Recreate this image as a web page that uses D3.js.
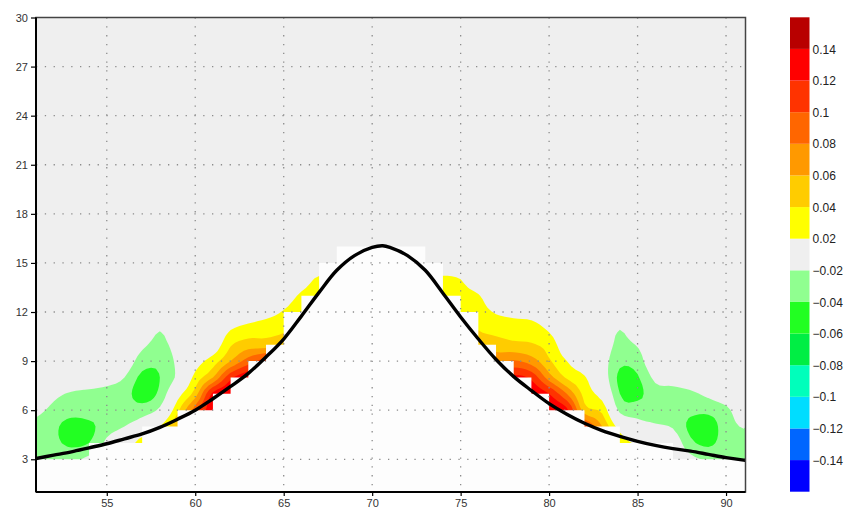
<!DOCTYPE html>
<html>
<head>
<meta charset="utf-8">
<title>contour</title>
<script src="https://cdn.jsdelivr.net/npm/d3@7"></script>
<style>
body { margin: 0; background: #fff; }
svg text { font-family: "Liberation Sans", Arial, sans-serif; }
</style>
</head>
<body>
<svg id="chart" width="862" height="510"></svg>
<script>
// field sampled on a unit grid, x = 51..91, y = 1..30
var gridX = d3.range(51, 92);
var gridY = d3.range(1, 31);

// values in hundredths, one row per y (rows not listed are 0)
//           51 .. 60                                          61 .. 70                                  71 .. 80                                   81 .. 91
var row02 = [-2.5,-2.5,-2,-1,0,0,0,0,0,0,                       0,0,0,0,0,0,0,0,0,0,                      0,0,0,0,0,0,0,0,0,0,                       0,0,0,0,0,0,0,-1.5,-2,-2,-2];
var row03 = [-2.5,-2.5,-2.5,-1.5,-0.5,0,2,4,6,8,                10,10,10,10,10,10,10,10,10,10,            10,10,10,10,10,10,10,10,10,10,             10,10,8,5,2,0,0,-1.5,-2.2,-2.2,-2.2];
var row04 = [-3,-3.5,-4.5,-4,-1.5,0.5,3,5,8,11,                 12,12,12,12,12,12,12,12,12,12,            12,12,12,12,12,12,12,12,12,13,             13,13,9,3.5,1.5,0,-0.5,-3.5,-4.5,-3,-3];
var row05 = [-2.5,-3.5,-5,-4.5,-3,-2,-0.5,2,6,10,               13,13,13,13,13,13,13,13,13,13,            13,13,13,13,13,13,13,13,13,13,             13,10.5,6,1,-1,-1.7,-2.2,-4.5,-5,-3,-1.8];
var row06 = [-1.5,-2.5,-3,-3,-3.2,-3,-3,-1.5,3.5,9,             13.5,14,14,13,13,13,13,13,13,13,          13,13,13,13,13,13,13,13,13,13.5,           12.5,5,3.5,-2.5,-3,-3,-3.2,-3.5,-3.5,-2.5,-0.5];
var row07 = [0,-1.5,-2.2,-2.5,-2.8,-3.2,-5,-3.5,1,5,            12.5,13.8,14,14,13,13,13,13,13,13,        13,13,13,13,13,13,13,13,13.5,12,           8,3.3,1,-4,-4.5,-2.8,-2.8,-2.4,-1.5,-0.5,0];
var row08 = [0,0,-0.5,-0.5,-1,-2,-4.5,-4,-1.5,2.7,              6,11.5,13.5,14,13,12,12,12,12,12,         12,12,12,12,12,12,11,12.5,11.5,7,          3.7,2.2,-0.5,-4.5,-4.2,-1.5,-1,-0.5,0,0,0];
var row09 = [0,0,0,0,0,-0.5,-3,-3.5,-1.5,1,                     3,6,9,11,12,11,11,11,11,11,               11,11,11,11,11,9,7.5,8.2,7,4.3,            2,0.5,-1,-3.5,-3,0,0,0,0,0,0];
var row10 = [0,0,0,0,0,0,-1.5,-2.7,-1,0,                        0.5,3.8,5,5,6,8,8,8,8,8,                  8,8,8,8,7,6,5,4.5,4.2,3.2,                 0.5,0,-0.5,-2.7,-1.8,0,0,0,0,0,0];
var row11 = [0,0,0,0,0,0,0,-1.8,0,0,                            0,1.8,2.7,3.2,3.5,5,6,6,6,6,              6,6,6,5,6,3.8,3.2,3,3,1.6,                 0,0,0,-1.9,0,0,0,0,0,0,0];
var row12 = [0,0,0,0,0,0,0,0,0,0,                               0,0,0.5,1.2,2.2,4,5,5,5,5,                5,5,5,5,3.8,3,1.8,1.4,1,0,                 0,0,0,0,0,0,0,0,0,0,0];
var row13 = [0,0,0,0,0,0,0,0,0,0,                               0,0,0,0,0.5,2.5,4,3,3,3,                  3,3,3,3.5,3,2.2,0,0,0,0,                   0,0,0,0,0,0,0,0,0,0,0];
var row14 = [0,0,0,0,0,0,0,0,0,0,                               0,0,0,0,0,0.5,2.5,2,1,1,                  1,1,2,2.5,2,0,0,0,0,0,                     0,0,0,0,0,0,0,0,0,0,0];

// contour levels and colours (lowest band first)
var levels = [-0.14,-0.12,-0.1,-0.08,-0.06,-0.04,-0.02,0.02,0.04,0.06,0.08,0.1,0.12,0.14];
var colors = ["#0000ff","#0066ff","#00ddff","#00ffbb","#00ee44","#22ff22","#90ff90","#efefef",
              "#ffff00","#ffcc00","#ff9900","#ff6600","#ff3300","#ff0000","#b80000"];
var levelLabels = ["\u22120.14","\u22120.12","\u22120.1","\u22120.08","\u22120.06","\u22120.04","\u22120.02",
                   "0.02","0.04","0.06","0.08","0.1","0.12","0.14"];

// masked (blank) region under the curve: top of each unit column
var maskX   = d3.range(51, 93);
var maskTop = [3,3,3,4,4,4,5,5,6,6, 7,8,9,10,12,13,15,16,16,16, 16,16,15,13,12,10,9,8,7,6, 6,5,5,4,4,4,3,3,3,3, 3,3];

// black curve
var curveX = [51,52,53,54,55,56,57,58,59,60,61,62,63,64,65,66,67,68,69,70,70.6,71,72,73,74,75,76,77,78,79,80,81,82,83,84,85,86,87,88,89,90,91,91.2];
var curveY = [3.05,3.25,3.45,3.7,3.95,4.25,4.55,4.95,5.45,6.0,6.7,7.45,8.25,9.25,10.35,11.75,13.2,14.55,15.45,15.95,16.05,15.95,15.45,14.55,13.15,11.7,10.35,9.1,8.05,7.2,6.4,5.75,5.2,4.75,4.4,4.1,3.85,3.65,3.5,3.3,3.1,2.95,2.93];

var xTicks = [55,60,65,70,75,80,85,90];
var yTicks = [3,6,9,12,15,18,21,24,27,30];

var svg = d3.select("#chart");
var L = 36, R = 745.5, T = 17.5, B = 492;

var x = d3.scaleLinear().domain([51, 91.1]).range([L, R]);
var y = d3.scaleLinear().domain([1, 30]).range([B, T]);

svg.append("clipPath").attr("id", "clip")
    .append("rect").attr("x", L).attr("y", T).attr("width", R - L).attr("height", B - T);
var plot = svg.append("g").attr("clip-path", "url(#clip)");

// flatten rows into the grid
var rows = {2: row02, 3: row03, 4: row04, 5: row05, 6: row06, 7: row07, 8: row08,
            9: row09, 10: row10, 11: row11, 12: row12, 13: row13, 14: row14};
var n = gridX.length, m = gridY.length;
var values = new Array(n * m).fill(0);
gridY.forEach(function(yy, j) {
    var row = rows[yy];
    if (!row) return;
    row.forEach(function(v, i) { values[j * n + i] = v / 100; });
});

// resample the grid 4x (cubic, clamped to the cell's corner range) so the
// filled contours come out rounded instead of straight-edged
var f = 4;
var N = (n - 1) * f + 1, M = (m - 1) * f + 1;
function val(i, j) {
    i = Math.max(0, Math.min(n - 1, i));
    j = Math.max(0, Math.min(m - 1, j));
    return values[j * n + i];
}
function cr(p0, p1, p2, p3, t) {
    return 0.5 * (2 * p1 + (-p0 + p2) * t + (2 * p0 - 5 * p1 + 4 * p2 - p3) * t * t
                  + (-p0 + 3 * p1 - 3 * p2 + p3) * t * t * t);
}
var fine = new Array(N * M);
for (var J = 0; J < M; J++) {
    var j0 = Math.min(Math.floor(J / f), m - 2), ty = J / f - j0;
    for (var I = 0; I < N; I++) {
        var i0 = Math.min(Math.floor(I / f), n - 2), tx = I / f - i0;
        var c = [-1, 0, 1, 2].map(function(k) {
            return cr(val(i0 - 1, j0 + k), val(i0, j0 + k), val(i0 + 1, j0 + k), val(i0 + 2, j0 + k), tx);
        });
        var v = cr(c[0], c[1], c[2], c[3], ty);
        var corners = [val(i0, j0), val(i0 + 1, j0), val(i0, j0 + 1), val(i0 + 1, j0 + 1)];
        fine[J * N + I] = Math.max(d3.min(corners), Math.min(d3.max(corners), v));
    }
}

var color = d3.scaleThreshold().domain(levels).range(colors);
var contours = d3.contours().size([N, M]).thresholds(levels)(fine);

// contour coordinate c -> fine sample index c - 0.5
var proj = d3.geoTransform({
    point: function(px, py) {
        this.stream.point(x(gridX[0] + (px - 0.5) / f), y(gridY[0] + (py - 0.5) / f));
    }
});
var path = d3.geoPath(proj);

plot.append("rect").attr("x", L).attr("y", T).attr("width", R - L).attr("height", B - T)
    .attr("fill", "#efefef");

plot.append("g").selectAll("path")
    .data(contours)
    .enter().append("path")
    .attr("d", path)
    .attr("fill", function(d) { return color(d.value); })
    .attr("stroke", "none");

// blank area below the curve (stepped, per column)
var maskArea = d3.area()
    .curve(d3.curveStepAfter)
    .x(function(d) { return x(d[0]); })
    .y0(B)
    .y1(function(d) { return y(d[1]); });
plot.append("path")
    .datum(d3.zip(maskX, maskTop))
    .attr("fill", "#fdfdfd")
    .attr("d", maskArea);

// dotted grid
plot.append("g").selectAll("line")
    .data(xTicks)
    .enter().append("line")
    .attr("x1", function(d) { return x(d); }).attr("x2", function(d) { return x(d); })
    .attr("y1", T).attr("y2", B)
    .attr("stroke", "#8c8c8c").attr("stroke-width", 1.3).attr("stroke-dasharray", "1.3,7.5");
plot.append("g").selectAll("line")
    .data(yTicks.slice(0, -1))
    .enter().append("line")
    .attr("y1", function(d) { return y(d); }).attr("y2", function(d) { return y(d); })
    .attr("x1", L).attr("x2", R)
    .attr("stroke", "#8c8c8c").attr("stroke-width", 1.3).attr("stroke-dasharray", "1.3,7.5");

// the curve
var line = d3.line()
    .curve(d3.curveCatmullRom)
    .x(function(d) { return x(d[0]); })
    .y(function(d) { return y(d[1]); });
plot.append("path")
    .datum(d3.zip(curveX, curveY))
    .attr("fill", "none")
    .attr("stroke", "#000")
    .attr("stroke-width", 3.4)
    .attr("d", line);

// frame
svg.append("rect").attr("x", L).attr("y", T).attr("width", R - L).attr("height", B - T)
    .attr("fill", "none").attr("stroke", "#444").attr("stroke-width", 1.5);
svg.append("line").attr("x1", L).attr("x2", L).attr("y1", T).attr("y2", B)
    .attr("stroke", "#000").attr("stroke-width", 2);
svg.append("line").attr("x1", L).attr("x2", R).attr("y1", B).attr("y2", B)
    .attr("stroke", "#000").attr("stroke-width", 2);

// axes
var yAxis = svg.append("g").attr("transform", "translate(" + L + ",0)")
    .call(d3.axisLeft(y).tickValues(yTicks).tickSize(5).tickPadding(3));
var xAxis = svg.append("g").attr("transform", "translate(0," + B + ")")
    .call(d3.axisBottom(x).tickValues(xTicks).tickSize(4).tickPadding(3));
[yAxis, xAxis].forEach(function(a) {
    a.select(".domain").remove();
    a.selectAll("line").attr("stroke", "#000").attr("stroke-width", 1.2);
    a.selectAll("text").attr("font-size", "11px").attr("fill", "#333");
});

// colour bar
var cbX = 790, cbW = 19.5, cbTop = 17.3, cbBot = 491.7;
var cy = d3.scaleLinear().domain([0, colors.length]).range([cbBot, cbTop]);
var cb = svg.append("g");
cb.selectAll("rect")
    .data(colors)
    .enter().append("rect")
    .attr("x", cbX)
    .attr("y", function(d, i) { return cy(i + 1); })
    .attr("width", cbW)
    .attr("height", function(d, i) { return cy(i) - cy(i + 1); })
    .attr("fill", function(d) { return d; });
cb.selectAll("text")
    .data(levelLabels)
    .enter().append("text")
    .attr("x", cbX + cbW + 3)
    .attr("y", function(d, i) { return cy(i + 1) + 1.5; })
    .attr("dominant-baseline", "middle")
    .attr("font-size", "12px")
    .attr("fill", "#222")
    .text(function(d) { return d; });
</script>
</body>
</html>
